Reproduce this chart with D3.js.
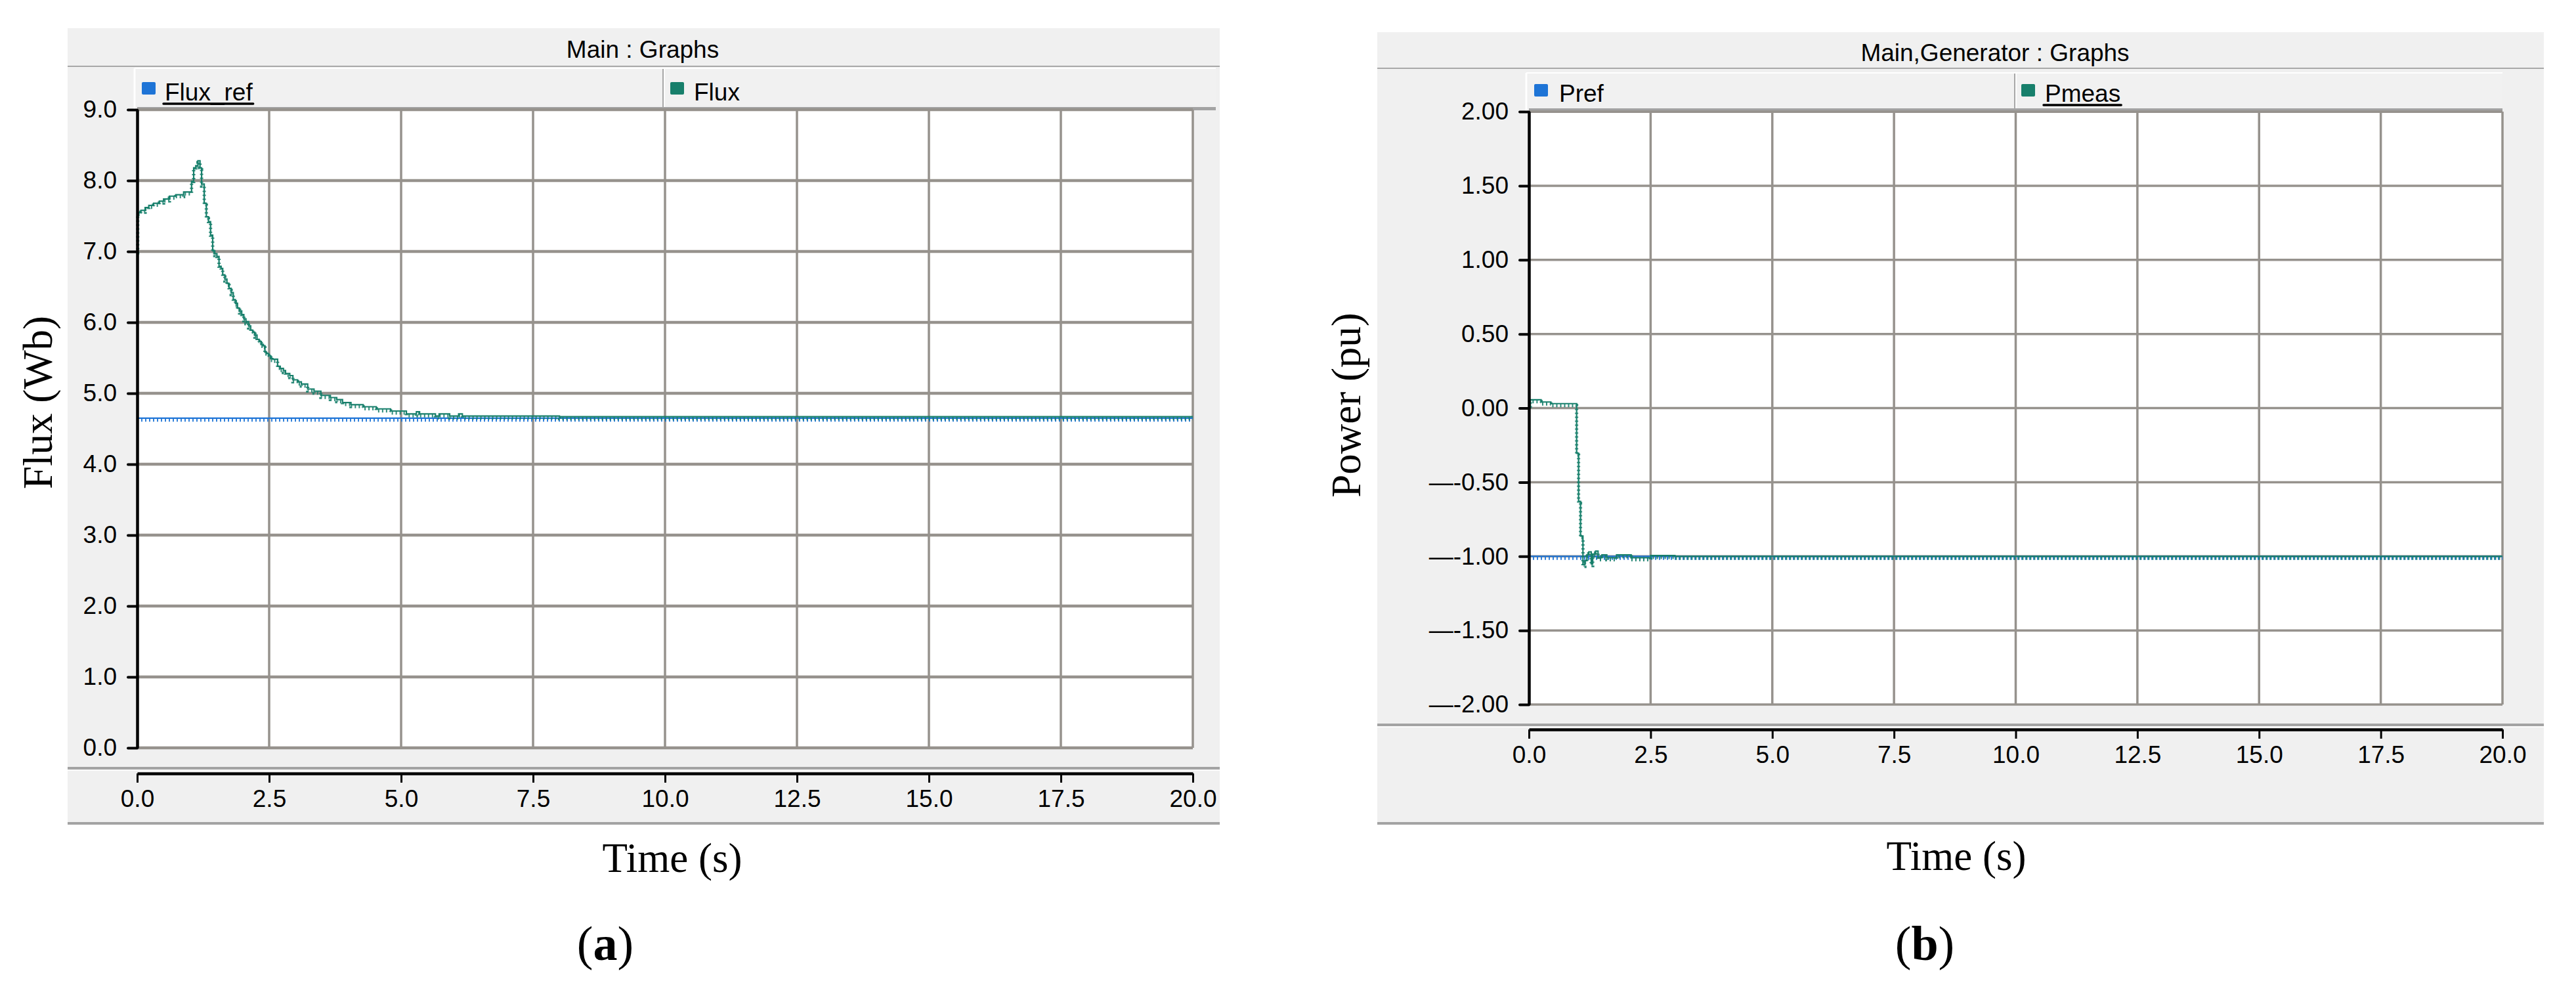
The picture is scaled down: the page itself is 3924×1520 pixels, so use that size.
<!DOCTYPE html>
<html><head><meta charset="utf-8">
<script src="https://cdn.jsdelivr.net/npm/d3@7"></script>
<style>html,body{margin:0;padding:0;background:#fff}</style>
</head><body>
<svg id="chart" width="3924" height="1520"></svg>
<script>
// ---------------- data ----------------
const timeTicks = [0, 2.5, 5, 7.5, 10, 12.5, 15, 17.5, 20];
const fluxTicks = [0, 1, 2, 3, 4, 5, 6, 7, 8, 9];
const powerTicks = [-2, -1.5, -1, -0.5, 0, 0.5, 1, 1.5, 2];

const fluxRefTime = [0, 20];
const fluxRefValues = [4.65, 4.65];

const fluxTime = [0, 0.01, 0.07, 0.15, 0.22, 0.31, 0.42, 0.50, 0.61, 0.73, 0.88, 1.03, 1.07, 1.11, 1.15, 1.19, 1.22, 1.27,
  1.31, 1.35, 1.39, 1.43, 1.47, 1.51, 1.55, 1.59, 1.62, 1.66, 1.70, 1.74, 1.78, 1.82, 1.86, 1.90, 1.94, 1.98,
  2.02, 2.06, 2.11, 2.15, 2.19, 2.23, 2.27, 2.31, 2.35, 2.39, 2.42, 2.45, 2.49, 2.53, 2.57, 2.66, 2.71, 2.77,
  2.81, 2.89, 2.95, 3.04, 3.11, 3.23, 3.35, 3.48, 3.66, 3.78, 3.89, 4.05, 4.28, 4.53, 4.80, 5.10, 5.29, 5.35,
  5.65, 5.72, 5.92, 6.09, 6.16, 8.0, 12.0, 16.0, 20.0];
const fluxValues = [7.01, 7.55, 7.58, 7.62, 7.65, 7.68, 7.71, 7.74, 7.78, 7.80, 7.84, 7.99, 8.18, 8.21, 8.28, 8.18, 7.95, 7.68,
  7.49, 7.42, 7.23, 7.01, 6.97, 6.93, 6.79, 6.76, 6.67, 6.61, 6.55, 6.48, 6.42, 6.32, 6.27, 6.20, 6.16, 6.11,
  6.05, 6.01, 5.95, 5.89, 5.86, 5.82, 5.76, 5.73, 5.69, 5.67, 5.58, 5.56, 5.53, 5.49, 5.48, 5.38, 5.35, 5.32,
  5.28, 5.25, 5.19, 5.16, 5.13, 5.06, 5.03, 4.97, 4.94, 4.91, 4.87, 4.84, 4.81, 4.78, 4.75, 4.71, 4.74, 4.71,
  4.68, 4.71, 4.68, 4.71, 4.68, 4.67, 4.67, 4.67, 4.67];

const prefTime = [0, 20];
const prefValues = [-1.0, -1.0];

const pmeasTime = [0, 0.03, 0.25, 0.45, 0.98, 1.02, 1.06, 1.11, 1.15, 1.19, 1.23, 1.28, 1.31, 1.37, 1.42, 1.50,
  1.60, 1.80, 2.10, 2.50, 3.00, 20.0];
const pmeasValues = [0.0, 0.056, 0.041, 0.03, -0.305, -0.63, -0.863, -1.055, -1.03, -0.99, -0.97, -1.05, -0.985,
  -0.965, -1.01, -0.99, -1.01, -0.99, -1.01, -0.995, -1.0, -1.0];

// ---------------- styles ----------------
const BLUE = "#1e74d6", GREEN = "#177f6b";
const GRID = "#96928d", BORDER = "#a3a3a3", PANEL = "#f0f0f0";
const SANS = "'Liberation Sans', Arial, sans-serif";
const SERIF = "'Liberation Serif', 'Times New Roman', serif";

const svg = d3.select("#chart");

function zip(t, v) { return t.map((d, i) => ({ t: d, v: v[i] })); }

function drawChart(c) {
  const g = svg.append("g");
  const [px0, py0, px1, py1] = c.panel;
  g.append("rect").attr("x", px0).attr("y", py0).attr("width", px1 - px0).attr("height", py1 - py0).attr("fill", PANEL);
  g.append("line").attr("x1", px0).attr("x2", px1).attr("y1", py1 - 2).attr("y2", py1 - 2)
    .attr("stroke", BORDER).attr("stroke-width", 4);
  // title
  g.append("text").attr("x", c.titleX).attr("y", c.titleY).attr("text-anchor", "middle")
    .style("font-family", SANS).style("font-size", "37px").attr("fill", "#000").text(c.title);
  g.append("line").attr("x1", px0).attr("x2", px1).attr("y1", c.titleSepY).attr("y2", c.titleSepY)
    .attr("stroke", "#a8a8a8").attr("stroke-width", 2);

  const x = d3.scaleLinear().domain([0, 20]).range([c.plot[0], c.plot[2]]);
  const y = d3.scaleLinear().domain(c.yDomain).range([c.plot[3], c.plot[1]]);

  // legend bar
  const [lx0, ly0, lx1, ly1] = c.legend;
  g.append("rect").attr("x", lx0).attr("y", ly0).attr("width", lx1 - lx0).attr("height", ly1 - ly0).attr("fill", "#f1f1f1");
  g.append("line").attr("x1", lx0 - 4).attr("x2", lx1).attr("y1", ly0 - 1).attr("y2", ly0 - 1).attr("stroke", "#fff").attr("stroke-width", 2);
  g.append("line").attr("x1", lx0 - 4).attr("x2", lx0 - 4).attr("y1", ly0 - 1).attr("y2", ly1).attr("stroke", "#fff").attr("stroke-width", 3);
  g.append("rect").attr("x", lx0).attr("y", ly1 - 5).attr("width", lx1 - lx0).attr("height", 5).attr("fill", BORDER);
  g.append("line").attr("x1", c.legendDiv).attr("x2", c.legendDiv).attr("y1", ly0).attr("y2", ly1 - 5)
    .attr("stroke", "#a8a8a8").attr("stroke-width", 2);
  g.append("line").attr("x1", c.legendDiv + 2).attr("x2", c.legendDiv + 2).attr("y1", ly0).attr("y2", ly1 - 5)
    .attr("stroke", "#fff").attr("stroke-width", 1.5);
  c.items.forEach(it => {
    g.append("rect").attr("x", it.sx).attr("y", c.swatchY).attr("width", 21).attr("height", 19).attr("rx", 2)
      .attr("fill", it.color);
    const t = g.append("text").attr("x", it.tx).attr("y", c.legendBase)
      .style("font-family", SANS).style("font-size", "37px").attr("fill", "#000").text(it.name);
    if (it.underline) {
      const w = t.node().getComputedTextLength();
      g.append("line").attr("x1", it.tx - 2).attr("x2", it.tx + w + 1).attr("y1", c.legendBase + 5).attr("y2", c.legendBase + 5)
        .attr("stroke", "#000").attr("stroke-width", 3.5).attr("stroke-linecap", "round");
    }
  });

  // plot background
  g.append("rect").attr("x", c.plot[0]).attr("y", c.plot[1]).attr("width", c.plot[2] - c.plot[0])
    .attr("height", c.plot[3] - c.plot[1]).attr("fill", "#fff");
  // grid
  g.append("g").selectAll("line").data(c.yTicks).join("line")
    .attr("x1", x(0)).attr("x2", x(20)).attr("y1", d => y(d)).attr("y2", d => y(d))
    .attr("stroke", GRID).attr("stroke-width", c.hGridW);
  g.append("g").selectAll("line").data(timeTicks.slice(1)).join("line")
    .attr("x1", d => x(d)).attr("x2", d => x(d)).attr("y1", c.plot[1]).attr("y2", c.plot[3])
    .attr("stroke", GRID).attr("stroke-width", 3.5);
  // top border of plot
  g.append("line").attr("x1", x(0)).attr("x2", x(20)).attr("y1", c.plot[1] + 1).attr("y2", c.plot[1] + 1)
    .attr("stroke", GRID).attr("stroke-width", 2);

  // series
  const line = d3.line().curve(d3.curveStepAfter).x(d => x(d.t)).y(d => y(d.v));
  c.series.forEach(s => {
    const data = zip(s.t, s.v);
    g.append("path").attr("d", line(data)).attr("fill", "none").attr("stroke", s.color)
      .attr("stroke-width", 5).attr("stroke-dasharray", "2,4").attr("transform", "translate(0,3)").attr("opacity", 0.9);
    g.append("path").attr("d", line(data)).attr("fill", "none").attr("stroke", s.color).attr("stroke-width", 2.2);
  });

  // y axis
  const yAxis = d3.axisLeft(y).tickValues(c.yTicks).tickFormat(c.yFmt).tickSize(14).tickSizeOuter(0).tickPadding(17);
  const ya = g.append("g").attr("transform", `translate(${c.plot[0]},0)`).call(yAxis)
    .attr("font-family", null).attr("font-size", null);
  ya.select(".domain").attr("stroke", "#000").attr("stroke-width", 4.5);
  ya.selectAll(".tick line").attr("stroke", "#000").attr("stroke-width", 4).attr("stroke-linecap", "round");
  ya.selectAll(".tick text").style("font-family", SANS).style("font-size", "37px").attr("fill", "#000");

  // separator between plot and x axis
  g.append("line").attr("x1", px0).attr("x2", px1).attr("y1", c.sepY).attr("y2", c.sepY)
    .attr("stroke", BORDER).attr("stroke-width", 4);
  g.append("line").attr("x1", px0).attr("x2", px1).attr("y1", c.sepY + 3).attr("y2", c.sepY + 3)
    .attr("stroke", "#fff").attr("stroke-width", 1.5);

  // x axis
  const xAxis = d3.axisBottom(x).tickValues(timeTicks).tickFormat(d3.format(".1f")).tickSize(14).tickSizeOuter(0).tickPadding(11);
  const xa = g.append("g").attr("transform", `translate(0,${c.xAxisY})`).call(xAxis)
    .attr("font-family", null).attr("font-size", null);
  xa.select(".domain").attr("stroke", "#000").attr("stroke-width", 4.5);
  xa.selectAll(".tick line").attr("stroke", "#000").attr("stroke-width", 3);
  xa.selectAll(".tick text").style("font-family", SANS).style("font-size", "37px").attr("fill", "#000");

  // axis titles
  g.append("text").attr("transform", `translate(${c.yLabel[0]},${c.yLabel[1]}) rotate(-90)`)
    .attr("text-anchor", "middle").attr("dominant-baseline", "central")
    .style("font-family", SERIF).style("font-size", "63px").attr("fill", "#000").text(c.yTitle);
  g.append("text").attr("x", c.xLabel[0]).attr("y", c.xLabel[1]).attr("text-anchor", "middle")
    .style("font-family", SERIF).style("font-size", "63px").attr("fill", "#000").text("Time (s)");
  const cap = g.append("text").attr("x", c.caption[0]).attr("y", c.caption[1]).attr("text-anchor", "middle")
    .style("font-family", SERIF).style("font-size", "74px").attr("fill", "#000");
  cap.append("tspan").text("(");
  cap.append("tspan").style("font-weight", "bold").text(c.captionLetter);
  cap.append("tspan").text(")");
}

drawChart({
  panel: [103, 43, 1858, 1256],
  title: "Main : Graphs", titleX: 979, titleY: 88, titleSepY: 101,
  legend: [209, 105, 1852, 168], legendDiv: 1010, swatchY: 125, legendBase: 153,
  items: [
    { name: "Flux_ref", color: BLUE, sx: 216, tx: 251, underline: true },
    { name: "Flux", color: GREEN, sx: 1021, tx: 1057, underline: false }
  ],
  plot: [209, 167, 1817, 1139],
  yDomain: [0, 9], yTicks: fluxTicks, yFmt: d3.format(".1f"), hGridW: 4.5,
  series: [
    { t: fluxRefTime, v: fluxRefValues, color: BLUE },
    { t: fluxTime, v: fluxValues, color: GREEN }
  ],
  sepY: 1170, xAxisY: 1178,
  yTitle: "Flux (Wb)", yLabel: [58, 613], xLabel: [1024, 1328],
  caption: [922, 1462], captionLetter: "a"
});

drawChart({
  panel: [2098, 49, 3875, 1256],
  title: "Main,Generator : Graphs", titleX: 3039, titleY: 93, titleSepY: 104,
  legend: [2329, 112, 3812, 170], legendDiv: 3069, swatchY: 128, legendBase: 155,
  items: [
    { name: "Pref", color: BLUE, sx: 2337, tx: 2375, underline: false },
    { name: "Pmeas", color: GREEN, sx: 3079, tx: 3115, underline: true }
  ],
  plot: [2329, 170, 3812, 1073],
  yDomain: [-2, 2], yTicks: powerTicks,
  yFmt: d => d < 0 ? "\u2014-" + Math.abs(d).toFixed(2) : d.toFixed(2), hGridW: 3.5,
  series: [
    { t: prefTime, v: prefValues, color: BLUE },
    { t: pmeasTime, v: pmeasValues, color: GREEN }
  ],
  sepY: 1104, xAxisY: 1111,
  yTitle: "Power (pu)", yLabel: [2051, 617], xLabel: [2980, 1325],
  caption: [2932, 1462], captionLetter: "b"
});
</script>
</body></html>
